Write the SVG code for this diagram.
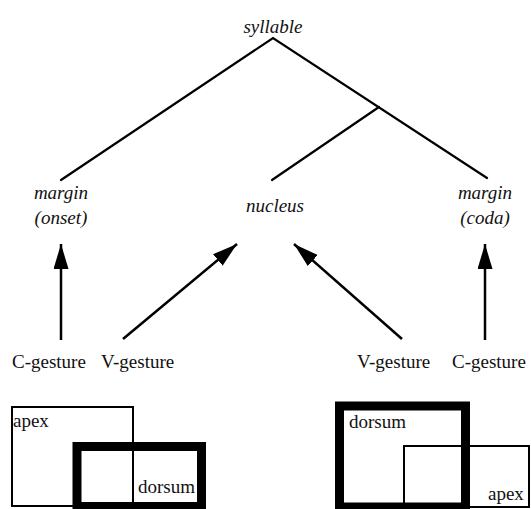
<svg xmlns="http://www.w3.org/2000/svg" width="531" height="509" viewBox="0 0 531 509">
  <style>
    .it { font-family: 'Liberation Serif', 'Tinos', 'Times New Roman', 'DejaVu Serif', serif; font-style: italic; font-size: 19px; fill: #111; }
    .rm { font-family: 'Liberation Serif', 'Tinos', 'Times New Roman', 'DejaVu Serif', serif; font-size: 19px; fill: #111; }
    .tree { stroke: #000; stroke-width: 2.2; fill: none; stroke-linecap: round; }
    .arr { stroke: #000; stroke-width: 2.5; fill: none; marker-end: url(#ah); }
    .thin { stroke: #000; stroke-width: 2; fill: none; }
    .thick { stroke: #000; stroke-width: 9; fill: none; }
  </style>
  <defs>
    <marker id="ah" markerUnits="userSpaceOnUse" markerWidth="26" markerHeight="16" refX="25" refY="7.5" orient="auto">
      <path d="M0,0 L25,7.5 L0,15 z" fill="#000"/>
    </marker>
  </defs>
  <rect width="531" height="509" fill="#fff"/>

  <g id="connectors">
    <polyline class="tree" points="61,180 273,38 487,178"/>
    <line class="tree" x1="379" y1="107" x2="272" y2="180"/>
    <line class="arr" x1="61" y1="340" x2="61" y2="244"/>
    <line class="arr" x1="123" y1="339" x2="237" y2="244"/>
    <line class="arr" x1="402" y1="339" x2="294" y2="244"/>
    <line class="arr" x1="485" y1="340" x2="485" y2="244"/>
  </g>

  <g id="syllable"><text class="it" x="273" y="33" text-anchor="middle">syllable</text></g>
  <g id="margin-onset">
    <text class="it" x="61" y="199" text-anchor="middle">margin</text>
    <text class="it" x="61" y="224" text-anchor="middle">(onset)</text>
  </g>
  <g id="nucleus"><text class="it" x="275" y="212" text-anchor="middle">nucleus</text></g>
  <g id="margin-coda">
    <text class="it" x="485" y="199" text-anchor="middle">margin</text>
    <text class="it" x="485" y="224" text-anchor="middle">(coda)</text>
  </g>

  <g id="c-gesture-left"><text class="rm" x="12" y="368">C-gesture</text></g>
  <g id="v-gesture-left"><text class="rm" x="101" y="368">V-gesture</text></g>
  <g id="v-gesture-right"><text class="rm" x="357" y="368">V-gesture</text></g>
  <g id="c-gesture-right"><text class="rm" x="452" y="368">C-gesture</text></g>

  <g id="left-boxes">
    <rect class="thin" x="12" y="407" width="121" height="99"/>
    <text class="rm" x="13" y="427">apex</text>
    <text class="rm" x="138" y="493">dorsum</text>
    <rect class="thick" x="77" y="446.5" width="124.5" height="60"/>
  </g>

  <g id="right-boxes">
    <text class="rm" x="349" y="428">dorsum</text>
    <rect class="thick" x="339.5" y="406" width="126" height="101"/>
    <rect class="thin" x="404" y="446" width="125" height="61"/>
    <text class="rm" x="488" y="500">apex</text>
  </g>
</svg>
